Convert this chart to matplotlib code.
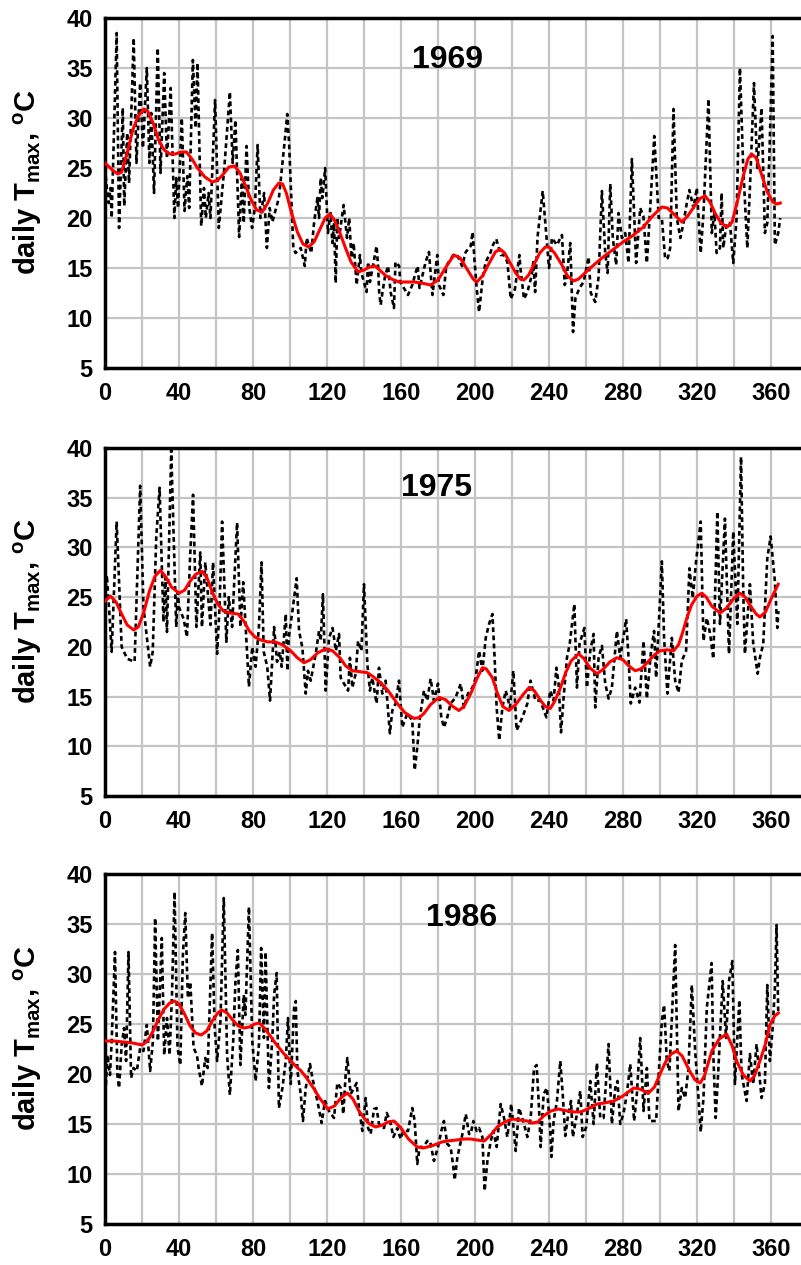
import matplotlib
matplotlib.use('Agg')
import matplotlib.pyplot as plt
import numpy as np

plt.rcParams['font.family'] = ['Liberation Sans', 'DejaVu Sans']
plt.rcParams['font.weight'] = 'bold'
plt.rcParams['mathtext.fontset'] = 'custom'
plt.rcParams['mathtext.rm'] = 'Liberation Sans:bold'
plt.rcParams['mathtext.it'] = 'Liberation Sans:bold'
plt.rcParams['mathtext.bf'] = 'Liberation Sans:bold'

# ---- 1969: daily Tmax (turning points) ----
day_1969 = [0, 1, 2, 3, 3.6, 6.3, 7.6, 9.6, 10.4, 12, 13, 15.5, 17, 19, 20.5, 22.6, 24, 25, 26.5,
            28.5, 30, 32, 33.5, 35.5, 37.5, 38.5, 39.5, 41.5, 43, 44.5, 45.5, 47.5, 49, 50, 52,
            53.5, 54.5, 56, 57, 59.5, 61.5, 63, 64.5, 67.5, 69, 70.5, 72.5, 74, 75, 76.5, 78,
            79.5, 81, 82.5, 84, 86, 87.5, 89, 90.5, 92.5, 94, 97.3, 98.5, 99.5, 101.8, 103, 105.8,
            108, 109, 111.5, 113, 114.8, 115.7, 116.6, 117.5, 119, 120.5, 121.9, 122.9, 123.8,
            124.7, 125.6, 126.5, 129, 130.8, 132, 133.2, 134.4, 136, 137.8, 138.5, 141.4, 142.2,
            143.2, 146.8, 147.6, 148.2, 149, 150, 151.4, 153, 154.4, 156.2, 157, 159, 159.6,
            163.8, 166.1, 167.4, 169, 170, 173.3, 175.1, 177, 179.6, 180.5, 182.9, 184.5, 186.8,
            188.3, 190.4, 193, 195, 197.7, 198.7, 199.8, 200.9, 202.2, 204.3, 205.8, 208.5, 209.4,
            211.5, 213.9, 215.7, 217.5, 219.3, 221.6, 224, 224.6, 226.5, 228.3, 230.6, 231.5,
            232.5, 233.8, 236.6, 238, 240, 240.7, 241.6, 244.3, 247, 248.5, 249.4, 251.5, 253,
            254.3, 256.5, 258.7, 261.4, 262.6, 265, 266.8, 268.6, 270.4, 271.7, 273.1, 274.5,
            276.3, 277.6, 279.4, 281.2, 283, 284.8, 287.1, 289.3, 291, 292.9, 294.7, 296.9,
            299.3, 301, 302.8, 304.2, 305.5, 307.3, 309.1, 311, 312.7, 314.5, 315.9, 318.1,
            319.9, 322, 323.5, 326.2, 328, 329.4, 330.6, 332.4, 333.3, 334.2, 336, 337.8, 339.6,
            341.4, 343.2, 345, 347.2, 348.6, 350.8, 352.6, 354.9, 356.7, 358, 359.4, 360.9,
            362.1, 363.9, 365]
tmax_1969 = [25, 23, 21.5, 23, 20, 38.5, 19, 31, 21.2, 28.5, 23.5, 38, 25.5, 33.5, 27, 35, 25.5,
             30.5, 22.5, 37, 24.5, 34.5, 26, 33, 20, 24, 21, 30, 20.7, 24.2, 21, 35.8, 29, 35.5,
             19.2, 23, 20, 22.5, 20, 31.8, 19, 22, 25, 32.6, 25.5, 29.8, 18.1, 24, 19.5, 27.2,
             21, 19, 21, 27.3, 20, 22.5, 17, 21, 19.6, 21, 22, 28, 30.4, 27.5, 17, 16.5, 17,
             15.2, 18, 16.5, 19.5, 22, 20, 24, 22, 25, 18.5, 20.5, 17.5, 19.5, 13.5, 20, 18,
             21.3, 18, 20, 16, 17.5, 13.3, 16.3, 14.6, 12.6, 15.6, 13.6, 17.2, 15.2, 12.6, 11.3,
             12.6, 14.2, 15.2, 12.6, 11, 15.6, 15.2, 13.6, 12.3, 13.3, 14.2, 15.2, 13, 15.6,
             16.6, 12.3, 16.3, 13.3, 12.3, 15.2, 15.9, 16.3, 16.3, 15.2, 16.6, 17.2, 18.6, 15.6,
             13, 10.6, 14.2, 15.6, 16.6, 17.2, 17.9, 16.3, 16.3, 15.6, 11.9, 12.9, 16.3, 14.9,
             11.9, 12.6, 14.2, 15.6, 12.6, 18.1, 22.7, 19.5, 15, 16, 18, 17.3, 18.3, 13.3, 13.8,
             17.5, 8.6, 12, 13, 13.6, 16.1, 12.5, 11.6, 14.1, 22.7, 16.5, 14.5, 23.4, 18, 15.3,
             20.5, 18, 18.5, 15.5, 25.9, 15.5, 21, 20.2, 15.5, 21, 28.2, 20, 20, 15.9, 16, 17,
             30.9, 20, 18, 19.5, 21.5, 22.8, 21, 23, 16.5, 20.5, 31.9, 18.5, 20.5, 16.5, 17,
             22.5, 17, 19.5, 19.5, 15.5, 20, 35, 25, 17, 23, 33.5, 25, 31, 18.5, 19.5, 28, 38.2,
             17.3, 18.5, 20]

# ---- 1969: smoothed curve ----
sday_1969 = [0, 4, 7, 9, 12, 15, 18, 21, 23, 26, 29, 32, 35, 38, 41, 44, 47, 50, 54, 58, 61, 64,
             67, 70, 73, 76, 79, 82, 85, 88, 91, 94, 96, 98, 101, 104, 107, 110, 113, 116, 119,
             121.6, 124, 127, 130, 133, 136.8, 140, 143, 146, 149, 152, 156, 159, 163, 167, 171,
             176, 180, 184, 188.6, 192, 196, 199, 201, 204, 208, 211, 213.5, 216, 219, 222,
             224.5, 226.5, 229, 232, 235, 238, 240, 243, 247, 250, 253.3, 256, 260, 263, 266,
             270, 275, 280, 285, 291, 296, 301, 304, 308, 311.8, 315, 319, 322, 324.4, 327, 330,
             333, 336.4, 339, 342, 345, 347.5, 349.5, 352, 355, 358, 361, 363, 365]
smooth_1969 = [25.5, 24.8, 24.4, 24.6, 26.5, 28.8, 30.2, 30.9, 30.7, 29.5, 27.8, 26.8, 26.4,
               26.4, 26.6, 26.6, 25.9, 25, 24.1, 23.6, 23.8, 24.4, 25.1, 25.2, 24.5, 23.2, 21.8,
               20.8, 20.6, 21.5, 22.8, 23.5, 23.4, 22.5, 20.4, 18.6, 17.4, 17.1, 17.6, 18.8, 20,
               20.4, 19.8, 18.5, 17, 15.6, 14.6, 14.8, 15.1, 15.2, 14.7, 14.2, 13.8, 13.6, 13.6,
               13.6, 13.5, 13.3, 13.8, 15, 16.3, 16, 14.8, 13.9, 13.6, 14.2, 15.6, 16.6, 16.9,
               16.5, 15.5, 14.5, 13.9, 13.8, 14.3, 15.4, 16.5, 17.1, 17.1, 16.5, 15.3, 14.2, 13.7,
               13.9, 14.6, 15.1, 15.6, 16.2, 16.9, 17.6, 18.2, 19.1, 20.2, 21.1, 21, 20.3, 19.6,
               20.2, 21.3, 22, 22.2, 21.6, 20.4, 19.5, 19.1, 19.6, 21.8, 24.2, 25.9, 26.4, 26,
               24.3, 22.6, 21.6, 21.4, 21.5]

# ---- 1975: daily Tmax ----
day_1975 = [0, 1, 2.5, 3.6, 6.3, 9, 12, 16, 19, 20.8, 22, 24.4, 25.8, 27.7, 29.5, 31.6, 32.6,
            33.5, 35.8, 38.5, 39.4, 40, 42.5, 44.3, 46, 47.6, 49.4, 51.5, 52.4, 54.2, 57, 58.4,
            60.6, 61.9, 63.3, 65.6, 66.9, 68.7, 71.4, 73.2, 74.7, 77.8, 79.6, 81.4, 83.2, 84.6,
            85.8, 87.7, 89.2, 91.4, 93, 94.5, 95.5, 97.7, 98.6, 99.3, 101.3, 103.6, 104.9,
            106.7, 108.5, 109.7, 111.2, 113.9, 115.7, 116.6, 117.8, 119.3, 121.1, 123, 124.8,
            126.5, 127.4, 129.2, 131.4, 132.4, 133.7, 135.5, 136.8, 138.6, 140, 141.8, 143.2,
            144.5, 146.8, 148.1, 149.9, 151.7, 154, 155.3, 157.1, 158.9, 160.7, 163.4, 166.1,
            167.4, 168.8, 170.2, 172.4, 174.2, 176, 177.8, 180, 181.8, 183.2, 185, 186.8, 189.5,
            192.3, 194, 196.2, 198.6, 200.4, 202.2, 204, 205.8, 207.6, 209.4, 210.6, 211.7,
            213.1, 214.8, 216.6, 218.9, 220.7, 222.5, 225.6, 228.3, 230, 232.7, 235.3, 238.6,
            240.7, 242.5, 244, 245.2, 246.5, 247.9, 249.7, 251.2, 253.7, 255.1, 256.5, 259.1,
            260.5, 262.3, 264.1, 265, 266.8, 268.6, 270.4, 272.2, 274, 276.7, 278.5, 281.7, 283,
            284.2, 286.6, 288.9, 291.1, 292.9, 295, 296.8, 297.9, 299.2, 301, 302.2, 304, 306.4,
            308.2, 310, 311.8, 314.1, 315.9, 317.7, 319.5, 322, 323.5, 325.3, 327.1, 328.8, 331,
            332.4, 335.1, 337.3, 339.6, 341.8, 343.8, 345, 345.9, 348.6, 350.4, 352.8, 354,
            355.8, 358, 359.8, 362.1, 363.4, 364]
tmax_1975 = [25, 27.2, 23, 19.5, 32.6, 20, 18.8, 18.5, 36.2, 24, 22, 18, 19.5, 31, 36, 22.5, 27,
             21.5, 39.8, 22, 25.5, 24, 22.8, 21, 29, 35.3, 22, 29.5, 22, 28.5, 22.2, 28.5, 19.3,
             24, 32.6, 20.5, 25, 22, 32.5, 22, 26.5, 16, 20, 18, 22, 28.5, 19.5, 18, 14.6, 22,
             18.5, 19.5, 18, 23.3, 17.6, 20.9, 23.6, 26.9, 21.6, 19.9, 15.3, 17.6, 16.6, 19.3,
             21.6, 20.6, 25.3, 15.6, 20.9, 21.9, 19.6, 21.3, 16.9, 16.3, 15.6, 18.9, 15.9, 17.3,
             20.6, 19.6, 26.3, 18.3, 15.6, 16.9, 14.3, 17.9, 15.3, 16.6, 11.3, 13.6, 14.3, 16.6,
             11.9, 13.3, 12.6, 7.6, 9.9, 12.9, 15.6, 14.6, 16.8, 14.6, 16.3, 12.9, 11.9, 12.9,
             14.3, 14.9, 16.3, 13.9, 15.3, 15.9, 16.9, 19.6, 17.6, 20.9, 22.3, 23.3, 18.9, 13.9,
             10.6, 13.9, 15.6, 13.9, 17.6, 11.6, 12.9, 14.3, 16.6, 14.6, 14.6, 12.9, 15.6, 14.6,
             17.9, 16.3, 11.4, 14.9, 18.9, 20.3, 24.3, 15.9, 20.3, 21.9, 15.9, 19.6, 21.3, 13.9,
             18.9, 20.1, 16.3, 14.8, 15.9, 21.6, 18.9, 22.8, 18.9, 14.3, 15.9, 14.4, 20.6, 14.8,
             19.3, 21.6, 16.9, 21.9, 28.6, 20.9, 15.3, 20.9, 16.6, 15.4, 18.6, 19.6, 27.9, 24.9,
             28.6, 32.6, 20.6, 22.9, 21.3, 18.8, 33.6, 22.3, 32.9, 19.3, 31.6, 22.3, 39.1, 25.6,
             19.3, 26.3, 20.3, 17.3, 18.9, 20.3, 28.9, 31.1, 26.6, 21.9, 23.6]

sday_1975 = [0, 3, 6, 9, 12, 15.5, 18, 21, 24, 27, 30, 33, 36, 40, 43, 46, 49, 52.4, 55, 58, 61,
             64, 68, 72, 75, 78, 81, 84, 88, 92, 96, 100.4, 104, 107.6, 111, 115, 119.3, 123, 127,
             130, 133.7, 138, 141.8, 145, 149, 153, 158, 162, 167, 170, 172.4, 176, 180.5, 184,
             188, 191.3, 194, 197.7, 201, 204, 206, 209.4, 212, 215, 218.4, 222, 226, 229.2, 232,
             235.5, 238, 240.7, 243, 246, 249, 252, 256, 259, 262, 265.9, 269, 273, 276.7, 280,
             283, 286.6, 290, 294, 297, 300, 304, 307.3, 310, 312, 314.5, 317, 320, 322.6, 325,
             328, 332.5, 336, 340, 343.2, 346, 349, 352, 354, 357, 360, 363.9]
smooth_1975 = [24.6, 25.1, 24.5, 23.3, 22.2, 21.7, 22, 23.5, 25.6, 27.1, 27.7, 27, 26, 25.4,
               25.7, 26.6, 27.3, 27.6, 27, 25.5, 24.3, 23.6, 23.4, 23.3, 22.6, 21.6, 21, 20.7,
               20.5, 20.5, 20.2, 19.6, 18.9, 18.4, 18.7, 19.4, 19.8, 19.6, 18.9, 18.1, 17.6, 17.5,
               17.4, 17, 16.4, 15.6, 14.3, 13.4, 12.8, 12.9, 13.3, 14.2, 14.9, 14.7, 14, 13.6, 14,
               15.3, 16.8, 17.9, 17.8, 16.9, 15.4, 14, 13.6, 14.2, 15.2, 15.9, 15.6, 14.6, 14,
               13.8, 14.5, 15.8, 17.4, 18.6, 19.3, 18.8, 17.9, 17.3, 17.7, 18.5, 18.9, 18.7, 18.1,
               17.6, 17.8, 18.6, 19.2, 19.6, 19.7, 19.6, 20.2, 21.3, 22.9, 24.2, 25.1, 25.4, 25,
               24.1, 23.4, 23.9, 24.9, 25.4, 25, 24.1, 23.3, 23, 23.5, 24.8, 26.3]

# ---- 1986: daily Tmax ----
day_1986 = [0.5, 1.3, 2.7, 3.6, 5.4, 6.7, 7.6, 9, 10.3, 11.4, 12.7, 14.1, 15.4, 17.2, 19, 20.8,
            22.6, 24.4, 25.9, 27.1, 28.6, 30.7, 32, 33.5, 34.9, 36.2, 37.6, 39.2, 40.7, 42.1,
            43.4, 44.8, 46.1, 47.9, 49.7, 50.6, 52.4, 54.2, 55.5, 57.9, 59.3, 60.6, 62.4, 64.2,
            66, 67.5, 69.3, 70.5, 71.8, 73.2, 75, 75.9, 77.8, 79.6, 81.4, 83.2, 84.4, 85.9, 86.8,
            88.6, 90.4, 91.4, 92.8, 94, 95.9, 97.7, 98.9, 100.4, 102.2, 103.1, 104, 105.8, 107,
            108.5, 110.8, 112.1, 114.8, 117.1, 118.9, 121.1, 123.8, 125.6, 127.4, 128.8, 130.1,
            131, 132.8, 134.6, 136, 137.3, 139.1, 140.9, 142.2, 143.6, 145.4, 146.8, 148.1,
            150.8, 152.3, 154.1, 155.9, 158, 159.8, 161.3, 163.8, 166.1, 167.4, 168.8, 170.1,
            172.1, 174.2, 175.7, 177.8, 180, 181.8, 183.2, 185, 186.8, 188.3, 189, 190.5, 193.2,
            195, 196.8, 197.7, 199.1, 200.9, 202.2, 204, 205.2, 206.7, 208.5, 209.9, 211.7,
            213.9, 215.7, 217.5, 219.6, 222, 223.8, 226.5, 228.3, 230.1, 231.9, 233.3, 234.6,
            235.5, 237.1, 238.9, 240.7, 241.3, 242.5, 244.3, 246.1, 247.4, 248.8, 250.1, 251.9,
            252.9, 255.1, 256.9, 258.2, 260.1, 262.3, 264.1, 265.9, 267.7, 269.5, 272.2, 274,
            275.8, 277, 278.5, 280.2, 282.1, 283.9, 286, 287.5, 289.3, 291.1, 292.9, 294.3,
            296.5, 297.9, 299.7, 301, 302.2, 303.7, 305.1, 306.9, 308.2, 310, 311.8, 313.6,
            315.4, 317.2, 319, 320.8, 322, 323.5, 325.3, 327.9, 328.8, 330.1, 331.5, 333.9,
            335.7, 337.3, 339.1, 340.5, 342.9, 344.1, 346.8, 348.6, 350.4, 352.2, 354.9, 356.7,
            358, 359.4, 360.9, 362.1, 363, 363.9]
tmax_1986 = [18.9, 21.9, 19.9, 23.3, 32.2, 19.9, 18.6, 22.9, 24.6, 21.3, 32.2, 19.6, 20.6, 20.3,
             22.6, 22.3, 24.9, 20.3, 23.3, 35.6, 23.3, 33.6, 21.9, 25.6, 21.9, 27.9, 38.2, 22.6,
             20.9, 31.9, 36.1, 27.6, 29.2, 22.6, 21.9, 20.6, 18.8, 21.6, 20.6, 34.1, 24.6, 21.3,
             25.3, 37.6, 21.9, 17.9, 23.3, 29.2, 32.4, 20.9, 27.9, 25.9, 36.7, 23.3, 19.3, 22.9,
             32.6, 23.6, 32.2, 18.6, 23.3, 27.9, 30.1, 16.6, 18.6, 21.3, 25.6, 19, 26.6, 27.3,
             20.3, 18, 15.3, 18.6, 21, 19.6, 17.3, 15.1, 17.3, 16.3, 15.6, 19.1, 18.6, 16, 20,
             21.6, 18, 18.6, 19.1, 16.6, 14.3, 17.6, 14.6, 14, 16.5, 16.6, 15, 14.6, 16.1, 15.3,
             13.7, 14.6, 13.5, 14.3, 14.3, 16.6, 15.3, 11, 12.7, 12.7, 13.3, 13.3, 11.3, 12.7,
             14.3, 15.3, 13, 12.7, 10.7, 9.4, 11.7, 14, 16, 14, 14, 15.3, 14.3, 14.6, 13.7, 8.3,
             11.3, 13.3, 14.3, 12.7, 17, 15.6, 13.7, 17, 12.3, 16.6, 15, 13.7, 15.6, 20.6, 20.9,
             16.6, 12.7, 18, 18.6, 14.3, 11.7, 15.3, 17.3, 21.3, 18, 13.8, 15.6, 17.3, 13.7, 16,
             18.3, 13.7, 14.7, 19.3, 15, 21.1, 15.6, 15.6, 23, 15, 18.6, 19.3, 15, 16, 18, 21,
             15.3, 18, 23.6, 16.3, 20.6, 15.3, 15.3, 15.3, 21.3, 25.3, 26.9, 21.3, 20.3, 27.6,
             32.9, 16.3, 18.6, 17.6, 20.6, 28.9, 22.3, 17.6, 14.2, 17.6, 26.6, 31.1, 22, 15.6,
             20.3, 29.3, 23.6, 29.3, 31.3, 19, 27.4, 20, 17.3, 22, 19, 23, 17.6, 19, 28.9, 21.3,
             24.6, 28.6, 34.9, 26.3]

sday_1986 = [0, 5, 10, 15, 20, 23, 26, 29, 32, 35, 37.5, 40, 43, 46, 49, 52, 55, 58, 61, 63, 66,
             69, 72, 75, 78, 81, 83.5, 86, 89, 92, 96.8, 100, 103, 106, 109, 113, 116, 120.4, 124,
             128, 131, 134, 137.3, 140, 143, 146.3, 150, 153, 156.2, 160, 164, 168.8, 172, 174.2,
             178, 182, 185, 190, 194, 197.7, 201, 205, 209, 212, 216, 220.2, 224, 228.3, 231,
             234, 237, 241, 245, 250, 254, 257, 261, 266, 270, 275, 280, 285.7, 289, 293.8, 297,
             300, 303, 306, 309, 312, 316, 319, 321.7, 324, 328, 332, 336, 339, 341.4, 345,
             348.6, 351, 354, 357, 359.4, 362, 364]
smooth_1986 = [23.3, 23.3, 23.2, 23.1, 22.9, 23.3, 24.3, 25.5, 26.5, 27.1, 27.3, 27, 26, 24.8,
               24.1, 23.9, 24.3, 25.3, 26.1, 26.4, 26.1, 25.4, 24.8, 24.6, 24.7, 25, 25.1, 24.6,
               23.9, 23.1, 22, 21.4, 20.8, 20.3, 19.6, 18.5, 17.6, 16.5, 16.8, 17.7, 18.1, 17.5,
               16.3, 15.6, 15, 14.7, 14.9, 15.2, 15.3, 14.6, 13.5, 12.7, 12.6, 12.7, 12.9, 13.2,
               13.3, 13.4, 13.5, 13.5, 13.4, 13.3, 14, 14.7, 15.2, 15.5, 15.4, 15.3, 15.1, 15.2,
               15.8, 16.3, 16.5, 16.3, 16.2, 16.2, 16.5, 17, 17.1, 17.3, 17.8, 18.6, 18.5, 18.1,
               18.7, 20, 21.2, 22, 22.3, 21.8, 20.3, 19.4, 19.1, 19.8, 22.3, 23.5, 24, 22.8, 21.3,
               19.9, 19.3, 19.8, 21.3, 23, 24.9, 25.8, 26.1]

years = ['1969', '1975', '1986']
daily = [(day_1969, tmax_1969), (day_1975, tmax_1975), (day_1986, tmax_1986)]
smooth = [(sday_1969, smooth_1969), (sday_1975, smooth_1975), (sday_1986, smooth_1986)]
title_pos = [(185, 35.8), (179, 36.0), (193, 35.6)]

W, H = 801, 1265
fig = plt.figure(figsize=(W / 100, H / 100), dpi=100)

# axes boxes in pixels: (left, top of y=40, bottom of y=5)
boxes = [(105, 18, 368), (105, 448, 796), (105, 874, 1224)]
px_per_day = 1.85

for i in range(3):
    left, top, bot = boxes[i]
    ax = fig.add_axes([left / W, 1 - bot / H, 380 * px_per_day / W, (bot - top) / H])
    ax.set_xlim(0, 380)
    ax.set_ylim(5, 40)
    ax.set_xticks(np.arange(0, 361, 40))
    ax.set_xticks(np.arange(20, 381, 40), minor=True)
    ax.set_yticks(np.arange(5, 41, 5))
    ax.grid(True, which='both', color='#c4c4c4', lw=1.6, zorder=0)
    ax.set_axisbelow(True)
    ax.tick_params(which='both', length=0, labelsize=17, pad=10)
    ax.tick_params(axis='y', pad=9)
    for lab in ax.get_xticklabels() + ax.get_yticklabels():
        lab.set_fontweight('bold')
    for s in ax.spines.values():
        s.set_linewidth(2.5)
        s.set_color('black')

    d, t = daily[i]
    ax.plot(d, t, color='black', lw=1.9, linestyle=(0, (1.8, 1.3)), zorder=3)
    sd, sv = smooth[i]
    ax.plot(sd, sv, color='#ff0000', lw=2.2, zorder=4)

    ax.text(title_pos[i][0], title_pos[i][1], years[i], ha='center', va='center',
            fontsize=23, fontweight='bold')

    fig.text(28 / W, 1 - ((top + bot) / 2 - 11) / H, r'daily T$_{\rm max}$, $^{\rm o}$C',
             rotation=90, ha='center', va='center', fontsize=21, fontweight='bold')

fig.savefig('out.png', dpi=100)
